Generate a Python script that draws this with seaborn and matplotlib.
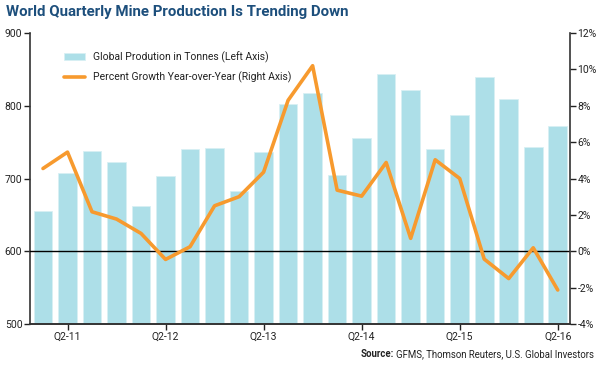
import matplotlib
matplotlib.use("Agg")
import matplotlib.pyplot as plt
import matplotlib.ticker as mticker
import pandas as pd
import seaborn as sns

quarters = ["Q1-11", "Q2-11", "Q3-11", "Q4-11", "Q1-12", "Q2-12", "Q3-12", "Q4-12",
            "Q1-13", "Q2-13", "Q3-13", "Q4-13", "Q1-14", "Q2-14", "Q3-14", "Q4-14",
            "Q1-15", "Q2-15", "Q3-15", "Q4-15", "Q1-16", "Q2-16"]
production = [656, 707, 738, 723, 662, 704, 740, 742, 683, 737, 802, 818,
              705, 756, 843, 821, 740, 787, 839, 809, 743, 772]
growth = [4.55, 5.45, 2.17, 1.77, 0.98, -0.45, 0.25, 2.5, 3.0, 4.35, 8.3, 10.2,
          3.36, 3.03, 4.88, 0.71, 5.03, 4.0, -0.43, -1.5, 0.19, -2.13]
tick_labels = ["Q2-11", "Q2-12", "Q2-13", "Q2-14", "Q2-15", "Q2-16"]

df = pd.DataFrame({"quarter": quarters, "production": production, "growth": growth})
df["pos"] = range(len(df))

sns.set_theme(style="ticks")
plt.rcParams["font.family"] = ["Roboto", "DejaVu Sans"]

bar_color = "#addfe8"
line_color = "#f79a2e"
text_color = "#222222"

fig = plt.figure(figsize=(6, 3.65), dpi=100)
ax = fig.add_axes([0.05, 0.1123, 0.90, 0.7973])

sns.barplot(data=df, x="quarter", y="production", color=bar_color, saturation=1,
            width=0.76, edgecolor="#d8f0f4", linewidth=0.6, ax=ax,
            label="Global Prodution in Tonnes (Left Axis)")
ax.set_ylim(500, 900)
ax.set_xlim(-0.53, len(df) - 0.5)
ax.set_yticks([500, 600, 700, 800, 900])
ax.axhline(600, color="black", lw=1.0, zorder=3)

ax2 = ax.twinx()
sns.lineplot(data=df, x="pos", y="growth", color=line_color, lw=2.6, ax=ax2,
             label="Percent Growth Year-over-Year (Right Axis)")
ax2.set_ylim(-4, 12)
ax2.set_yticks(range(-4, 13, 2))
ax2.yaxis.set_major_formatter(mticker.FuncFormatter(lambda v, p: f"{v:.0f}%"))

tick_pos = [quarters.index(t) for t in tick_labels]
ax.set_xticks(tick_pos)
ax.set_xticklabels(tick_labels)
for a in (ax, ax2):
    a.set_xlabel("")
    a.set_ylabel("")
    a.spines["top"].set_visible(False)
    for s in ("left", "right", "bottom"):
        a.spines[s].set_color("#333333")
        a.spines[s].set_linewidth(1.2)
    a.tick_params(colors=text_color, labelsize=7.5, length=4, width=1.0, pad=1.5)
    a.grid(False)
ax2.spines["left"].set_visible(False)
ax.spines["right"].set_visible(False)

h1, l1 = ax.get_legend_handles_labels()
h2, l2 = ax2.get_legend_handles_labels()
if ax.get_legend() is not None:
    ax.get_legend().remove()
ax2.legend(h1 + h2, l1 + l2, loc="upper left", bbox_to_anchor=(0.045, 0.97),
           frameon=False, fontsize=7.5, handlelength=2.0, labelspacing=0.85,
           labelcolor=text_color)

fig.text(0.01, 0.955, "World Quarterly Mine Production Is Trending Down",
         fontsize=10.8, fontweight="bold", color="#1d4f7c", ha="left")
src = fig.text(0.99, 0.022, "GFMS, Thomson Reuters, U.S. Global Investors",
               fontsize=6.9, color=text_color, ha="right")
fig.canvas.draw()
bb = src.get_window_extent()
fig.text(bb.x0 / fig.bbox.width - 0.004, 0.022, "Source:", fontsize=6.9,
         fontweight="bold", color=text_color, ha="right")

fig.savefig("out.png", dpi=100)
